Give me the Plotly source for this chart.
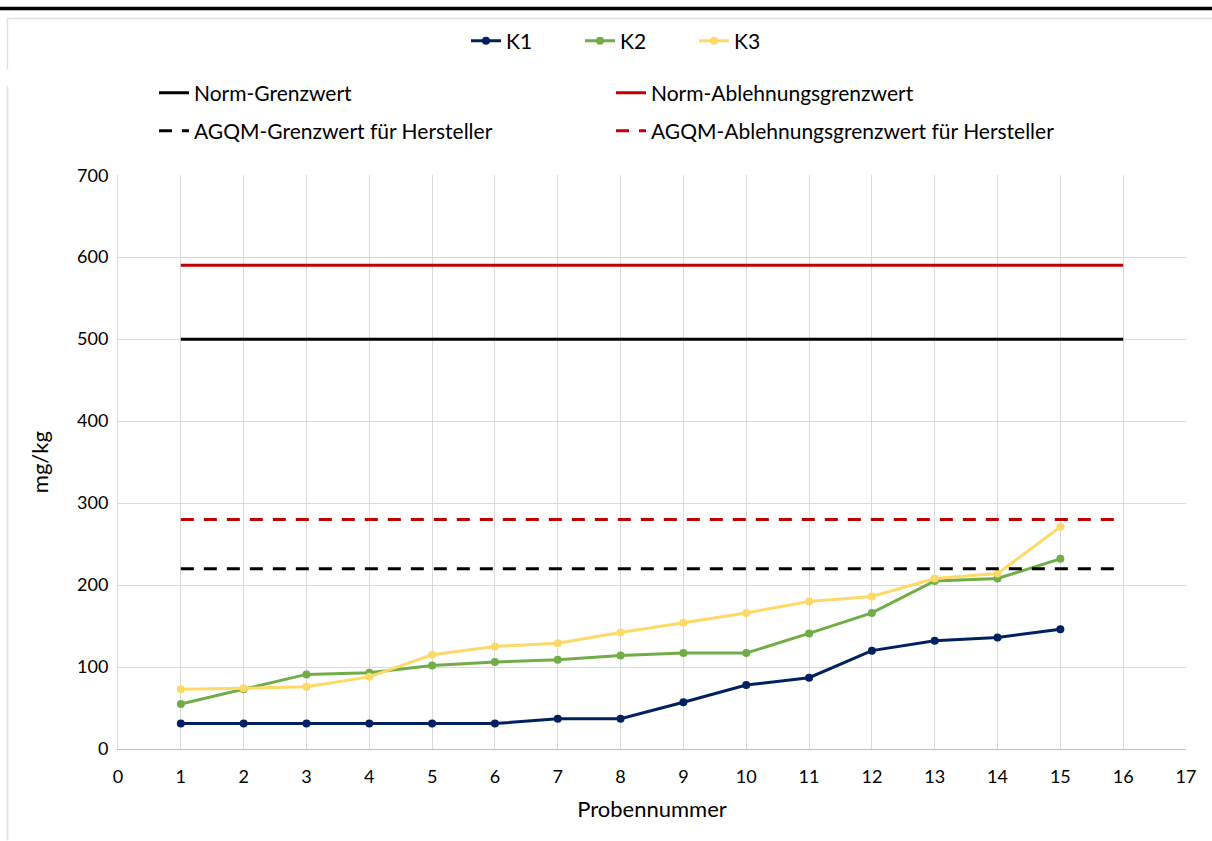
import plotly.graph_objects as go

# Probennummern und Messwerte (mg/kg)
proben = list(range(1, 16))
k1 = [31, 31, 31, 31, 31, 31, 37, 37, 57, 78, 87, 120, 132, 136, 146]
k2 = [55, 73, 91, 93, 102, 106, 109, 114, 117, 117, 141, 166, 205, 208, 232]
k3 = [73, 74, 76, 88, 115, 125, 129, 142, 154, 166, 180, 186, 208, 214, 271]

# Grenzwerte, gezeichnet über die Probennummern 1 bis 16
grenz_x = list(range(1, 17))
norm_grenzwert = 500
norm_ablehnung = 590
agqm_grenzwert = 220
agqm_ablehnung = 280

x_ticks = list(range(0, 18))
y_ticks = list(range(0, 701, 100))

W, H = 1212, 841
L, R, T, B = 118, 26, 170, 92
FONT = "Lato"


def px_x(p):
    return (p - L) / (W - L - R)


def px_y(p):
    return 1 - (p - T) / (H - T - B)


fig = go.Figure()

series = [
    ("K1", k1, "#002060"),
    ("K2", k2, "#70AD47"),
    ("K3", k3, "#FFD966"),
]
for name, vals, col in series:
    fig.add_trace(go.Scatter(
        x=proben, y=vals, name=name, mode="lines+markers",
        line=dict(color=col, width=3),
        marker=dict(color=col, size=8),
        legend="legend",
    ))

limits = [
    ("Norm-Grenzwert", norm_grenzwert, "#000000", "solid", "legend2"),
    ("Norm-Ablehnungsgrenzwert", norm_ablehnung, "#C00000", "solid", "legend2"),
    ("AGQM-Grenzwert für Hersteller", agqm_grenzwert, "#000000", "13px,10px", "legend3"),
    ("AGQM-Ablehnungsgrenzwert für Hersteller", agqm_ablehnung, "#C00000", "13px,10px", "legend3"),
]
for name, val, col, dash, leg in limits:
    fig.add_trace(go.Scatter(
        x=grenz_x, y=[val] * len(grenz_x), name=name, mode="lines",
        line=dict(color=col, width=3, dash=dash),
        legend=leg,
    ))

legend_font = dict(family=FONT, size=21, color="#000000")
fig.update_layout(
    width=W, height=H,
    margin=dict(l=L, r=R, t=T, b=B),
    paper_bgcolor="white", plot_bgcolor="white",
    font=dict(family=FONT, size=18, color="#000000"),
    showlegend=True,
    legend=dict(
        orientation="h", xref="container", yref="container",
        x=466 / W, xanchor="left", y=1 - 41 / H, yanchor="middle",
        font=legend_font, entrywidth=69, itemclick=False,
        bgcolor="rgba(0,0,0,0)",
    ),
    legend2=dict(
        orientation="h", xref="container", yref="container",
        x=154 / W, xanchor="left", y=1 - 93 / H, yanchor="middle",
        font=legend_font, entrywidth=412, itemclick=False,
        bgcolor="rgba(0,0,0,0)",
    ),
    legend3=dict(
        orientation="h", xref="container", yref="container",
        x=154 / W, xanchor="left", y=1 - 131 / H, yanchor="middle",
        font=legend_font, entrywidth=412, itemclick=False,
        bgcolor="rgba(0,0,0,0)",
    ),
    xaxis=dict(
        range=[0, 17], tickvals=x_ticks, ticktext=[str(v) for v in x_ticks],
        showgrid=True, gridcolor="#D9D9D9", gridwidth=1,
        zeroline=False, showline=True, linecolor="#BFBFBF", linewidth=1,
        ticks="", ticklabelstandoff=11,
        tickfont=dict(family=FONT, size=18),
        title=dict(text="Probennummer", font=dict(family=FONT, size=22), standoff=16),
        mirror=False,
    ),
    yaxis=dict(
        range=[0, 700], tickvals=y_ticks, ticktext=[str(v) for v in y_ticks],
        showgrid=True, gridcolor="#D9D9D9", gridwidth=1,
        zeroline=False, showline=True, linecolor="#D9D9D9", linewidth=1,
        ticks="", ticklabelstandoff=5,
        tickfont=dict(family=FONT, size=18),
        title=dict(text="mg/kg", font=dict(family=FONT, size=22), standoff=22),
    ),
    shapes=[
        # dunkler Balken am oberen Rand
        dict(type="rect", xref="paper", yref="paper",
             x0=px_x(0), x1=px_x(W), y0=px_y(0), y1=px_y(3.5),
             fillcolor="#000000", line=dict(width=0), layer="above"),
        # helle Rahmenlinien
        dict(type="line", xref="paper", yref="paper",
             x0=px_x(7), x1=px_x(W), y0=px_y(12), y1=px_y(12),
             line=dict(color="#E0E0E0", width=1.5)),
        dict(type="line", xref="paper", yref="paper",
             x0=px_x(7.5), x1=px_x(7.5), y0=px_y(12), y1=px_y(63),
             line=dict(color="#E0E0E0", width=1.5)),
        dict(type="line", xref="paper", yref="paper",
             x0=px_x(7.5), x1=px_x(7.5), y0=px_y(80), y1=px_y(H),
             line=dict(color="#E0E0E0", width=1.5)),
    ],
)

fig.write_html("out.html")
